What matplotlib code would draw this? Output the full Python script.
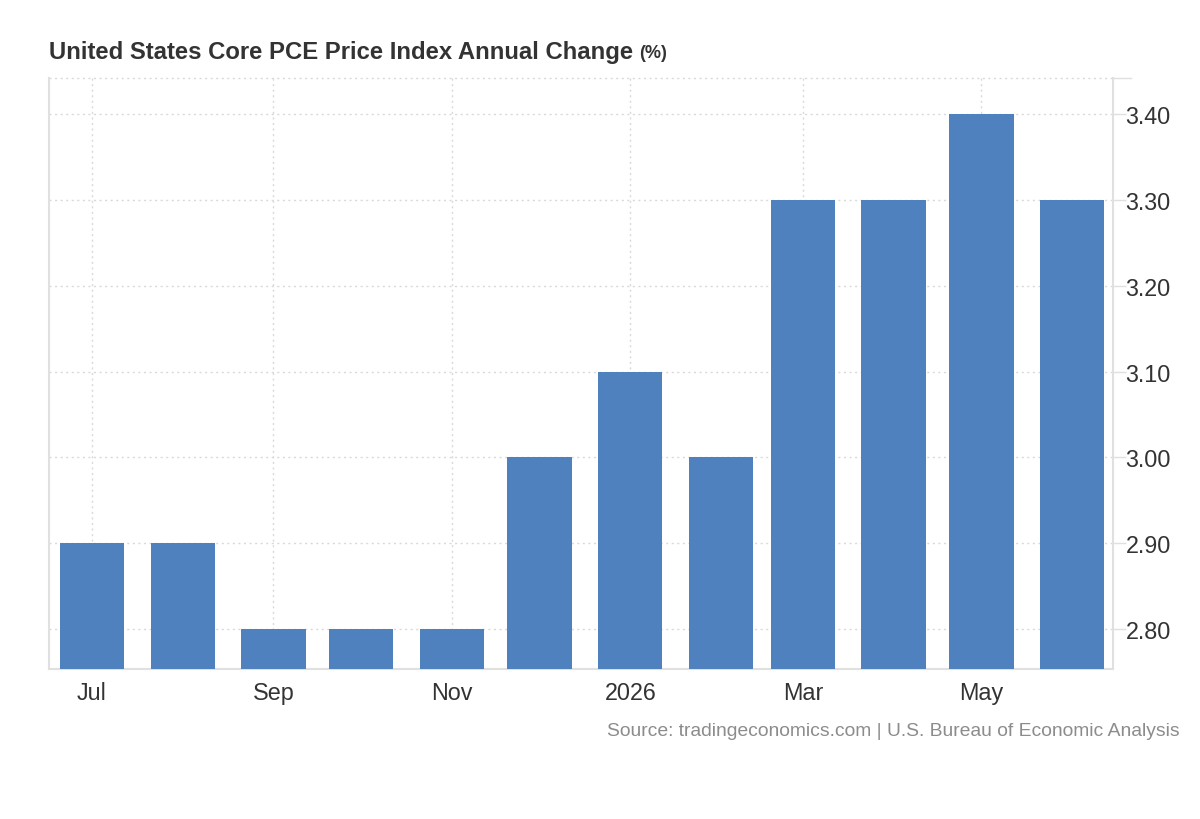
import matplotlib
matplotlib.use("Agg")
import matplotlib.pyplot as plt
import matplotlib.dates as mdates
import numpy as np
from datetime import date, timedelta

months = ["2025-07", "2025-08", "2025-09", "2025-10", "2025-11", "2025-12",
          "2026-01", "2026-02", "2026-03", "2026-04", "2026-05", "2026-06"]
values = [2.9, 2.9, 2.8, 2.8, 2.8, 3.0, 3.1, 3.0, 3.3, 3.3, 3.4, 3.3]
tick_months = ["2025-07", "2025-09", "2025-11", "2026-01", "2026-03", "2026-05"]
tick_labels = ["Jul", "Sep", "Nov", "2026", "Mar", "May"]
y_ticks = [2.8, 2.9, 3.0, 3.1, 3.2, 3.3, 3.4]

def to_date(s):
    y, m = s.split("-")
    return date(int(y), int(m), 1)

plt.rcParams['font.family'] = ['Liberation Sans', 'DejaVu Sans']

fig = plt.figure(figsize=(12, 8.2), dpi=100)
ax = fig.add_axes([49/1200, 1 - 670/820, (1113-49)/1200, (670-79)/820])

xd = [mdates.date2num(to_date(m)) for m in months]
ax.bar(xd, values, width=22, color="#4e81bd", zorder=3, bottom=0)

ymin, ymax = 2.7535, 3.4419
ax.set_ylim(ymin, ymax)
x0 = mdates.date2num(date(2025, 7, 1)) - 14.7
x1 = mdates.date2num(date(2026, 6, 1)) + 14.0
ax.set_xlim(x0, x1)

ax.yaxis.tick_right()
ax.set_yticks(y_ticks)
ax.set_yticklabels([f"{v:.2f}" for v in y_ticks])
ax.set_xticks([mdates.date2num(to_date(m)) for m in tick_months])
ax.set_xticklabels(tick_labels)

ax.tick_params(axis='y', length=9, width=1, color="#e0e0e0", labelsize=16.8,
               labelcolor="#333333", pad=0)
ax.tick_params(axis='x', length=0, labelsize=16.8, labelcolor="#333333", pad=9)

ax.grid(True, axis='both', color="#d9d9d9", linestyle=(0, (1.5, 2.5)), linewidth=1, zorder=0)
ax.axhline(ymax, color="#d9d9d9", linestyle=(0, (1.5, 2.5)), linewidth=1, zorder=0, clip_on=False)

for s in ["top"]:
    ax.spines[s].set_visible(False)
for s in ["left", "right", "bottom"]:
    ax.spines[s].set_color("#e0e0e0")
    ax.spines[s].set_linewidth(1.5)

# top tick on right axis
ax.plot([1.0, 1.017], [1.0, 1.0], transform=ax.transAxes, color="#e0e0e0", lw=1, clip_on=False)

fig.text(49/1200, 1 - 52/820, "United States Core PCE Price Index Annual Change",
         fontsize=17.2, fontweight='bold', color="#333333", va='center', ha='left')
fig.text(639/1200, 1 - 54/820, "(%)", fontsize=13, fontweight='bold', color="#333333",
         va='center', ha='left')
fig.text(1180/1200, 1 - 732/820,
         "Source: tradingeconomics.com | U.S. Bureau of Economic Analysis",
         fontsize=13.9, color="#8c8c8c", ha='right', va='center')

fig.savefig("out.png", dpi=100, facecolor="white")
